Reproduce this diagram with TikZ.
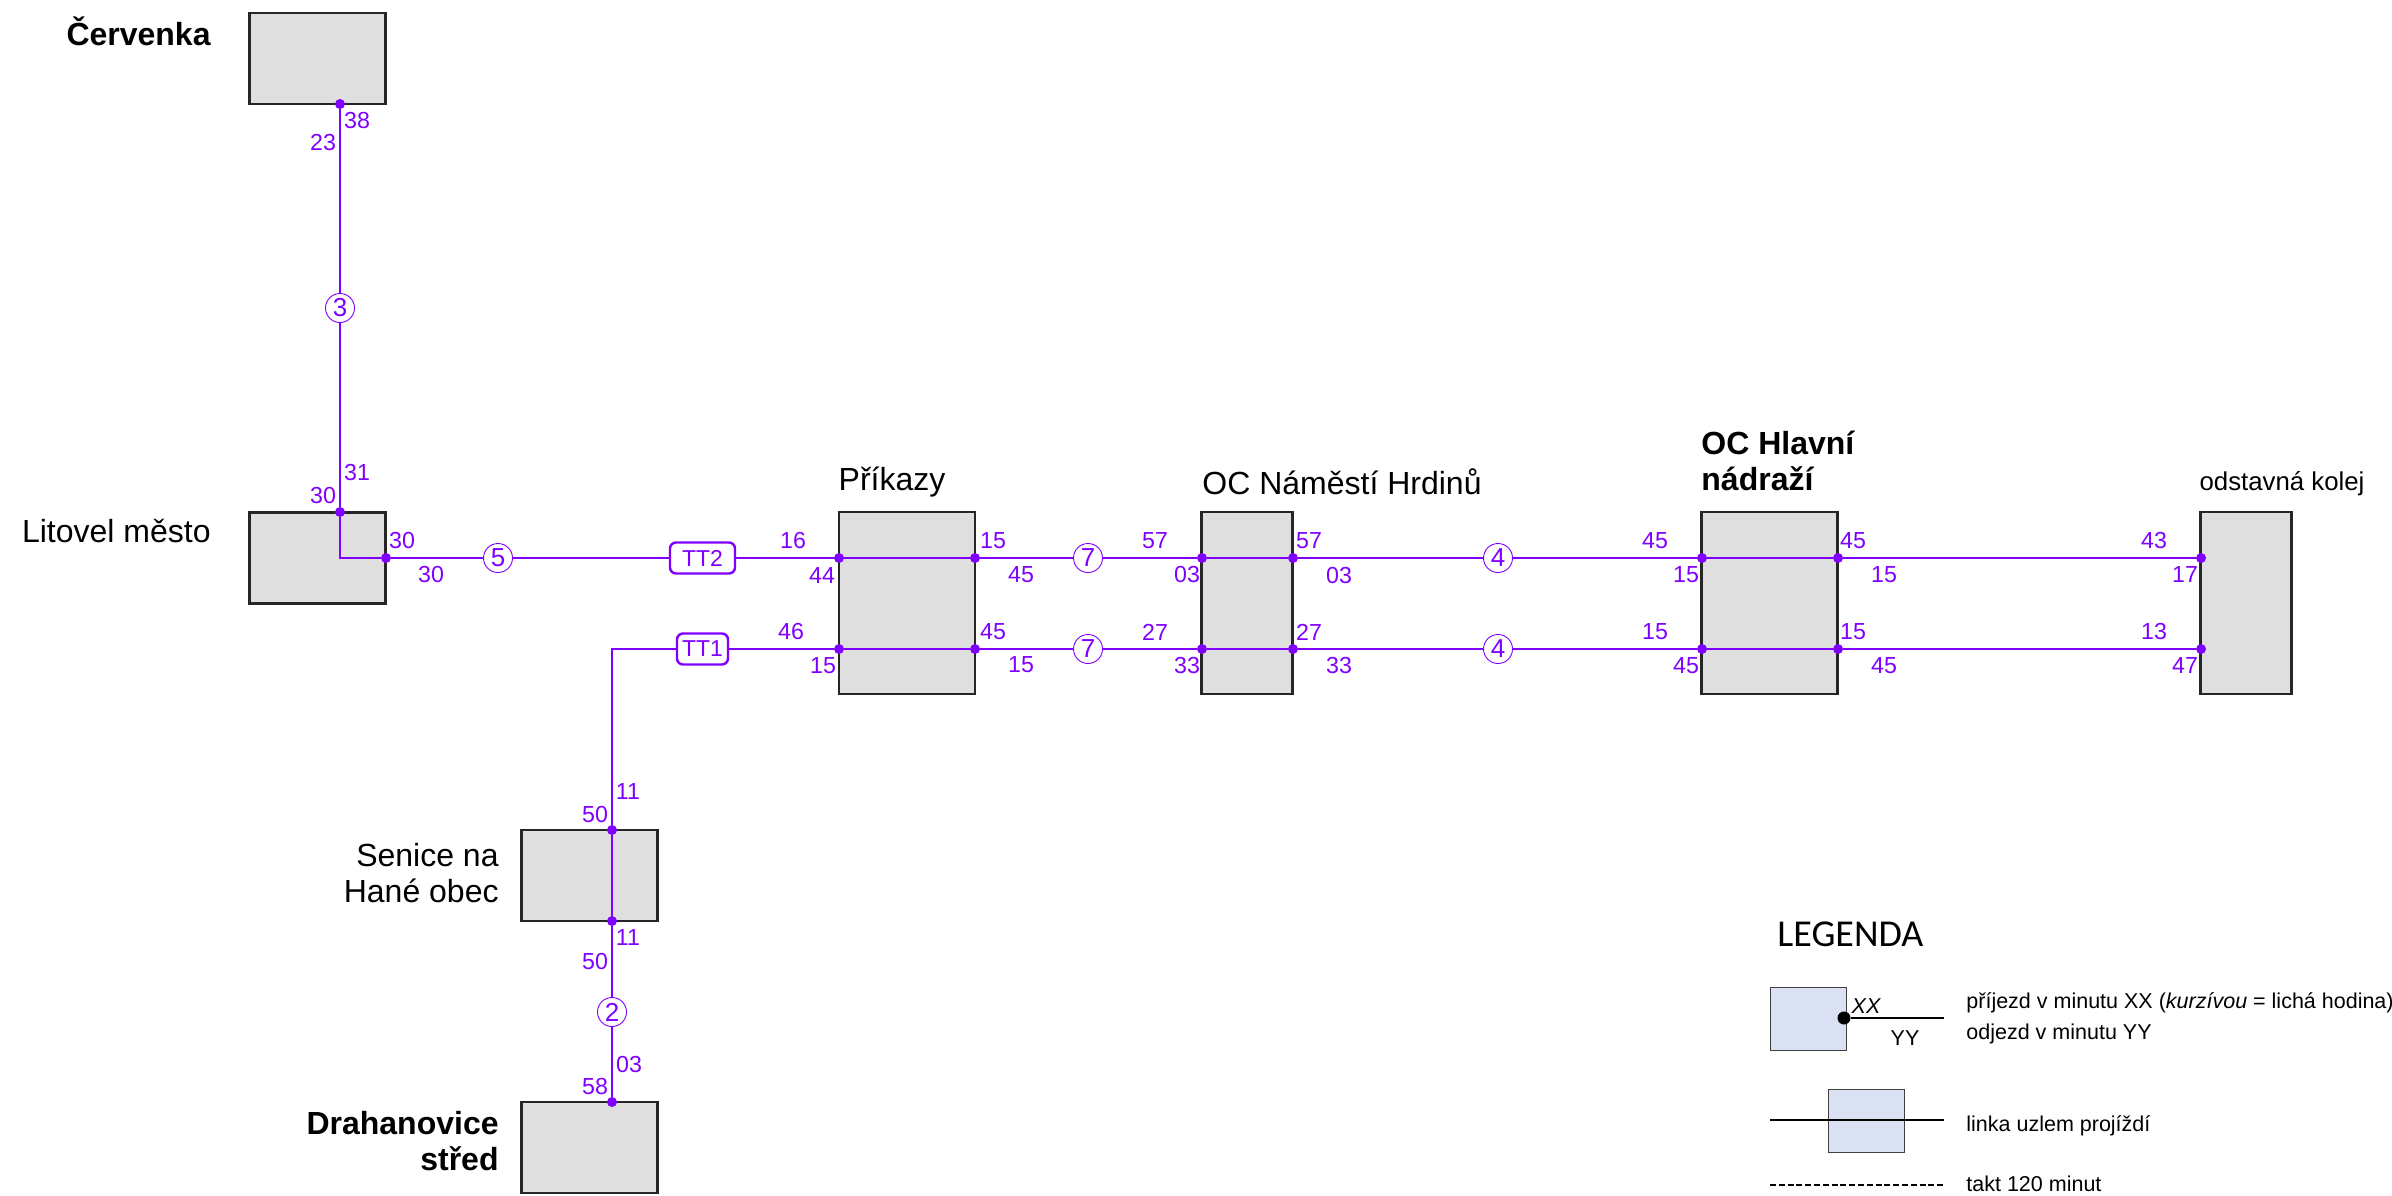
\documentclass[tikz,border=0pt]{standalone}
\usepackage{fontspec}
\setmainfont{Liberation Sans}
\newfontfamily\legfont{Carlito}
\definecolor{linepurple}{HTML}{8000FF}
\definecolor{stationgrey}{HTML}{DFDFDF}
\definecolor{legendblue}{HTML}{D9E1F2}
\tikzset{
  stationbox/.style={draw=black!85,line width=1.1pt,fill=stationgrey,inner sep=0pt,minimum width=68pt,minimum height=45.5pt},
  stationtall/.style={stationbox,minimum height=91pt},
  stationslim/.style={stationbox,minimum width=45.5pt,minimum height=91pt},
  route/.style={draw=linepurple,line width=1.25pt},
  stop/.style={circle,fill=linepurple,inner sep=0pt,minimum size=5pt},
  linenum/.style={circle,draw=linepurple,line width=0.45pt,fill=white,text=linepurple,inner sep=0pt,minimum size=14.5pt,font=\fontsize{13}{13}\selectfont},
  ttbox/.style={rounded corners=3pt,draw=linepurple,line width=1.2pt,fill=white,text=linepurple,inner sep=0pt,minimum height=15.5pt,font=\fontsize{11.5}{11.5}\selectfont},
  minute/.style={text=linepurple,inner sep=0pt,font=\fontsize{11.6}{11.6}\selectfont},
  title/.style={inner sep=0pt,align=right,anchor=east,font=\fontsize{16}{17.6}\selectfont},
  titlebold/.style={title,font=\fontsize{16}{18}\selectfont\bfseries},
  legtext/.style={inner sep=0pt,anchor=west,font=\fontsize{10.75}{12}\selectfont},
  legbox/.style={draw=black!75,line width=0.5pt,fill=legendblue,inner sep=0pt,minimum width=38pt,minimum height=31.5pt},
  legline/.style={draw=black,line width=1pt}
}
\begin{document}
\begin{tikzpicture}[x=0.5pt,y=-0.5pt]
\useasboundingbox (0,0) rectangle (2392,1195);
% stations
\node[stationbox] (cer) at (317.5,58.5) {};
\node[stationbox] (lit) at (317.5,558) {};
\node[stationtall] (pri) at (907,603) {};
\node[stationslim] (nam) at (1247,603) {};
\node[stationtall] (hla) at (1769.5,603) {};
\node[stationslim] (ods) at (2246,603) {};
\node[stationbox] (sen) at (589.5,875.5) {};
\node[stationbox] (dra) at (589.5,1147.5) {};
% stops
\foreach \n/\x/\y in {cerB/340/104,litT/340/512,litR/386/558,senT/612/830,senB/612/921,draT/612/1102,
  priA/839/558,priB/975/558,priC/839/649,priD/975/649,
  namA/1202/558,namB/1293/558,namC/1202/649,namD/1293/649,
  hlaA/1702/558,hlaB/1838/558,hlaC/1702/649,hlaD/1838/649,
  odsA/2201/558,odsC/2201/649}
  \node[stop] (\n) at (\x,\y) {};
\coordinate (litCorner) at (340,558);
\coordinate (ttCorner) at (612,649);
% line markers
\node[linenum] (c3) at (340,308) {3};
\node[linenum] (c5) at (498,558) {5};
\node[linenum] (c7a) at (1088,558) {7};
\node[linenum] (c7b) at (1088,649) {7};
\node[linenum] (c4a) at (1498,558) {4};
\node[linenum] (c4b) at (1498,649) {4};
\node[linenum] (c2) at (612,1012) {2};
\node[ttbox,minimum width=32.5pt] (tt2) at (702.5,558) {TT2};
\node[ttbox,minimum width=25.5pt] (tt1) at (702.5,649) {TT1};
% routes
\draw[route] (cerB) -- (c3) -- (litT) -- (litCorner) -- (litR) -- (c5) -- (tt2) -- (priA) -- (priB) -- (c7a) -- (namA) -- (namB) -- (c4a) -- (hlaA) -- (hlaB) -- (odsA);
\draw[route] (draT) -- (c2) -- (senB) -- (senT) -- (ttCorner) -- (tt1) -- (priC) -- (priD) -- (c7b) -- (namC) -- (namD) -- (c4b) -- (hlaC) -- (hlaD) -- (odsC);
% minutes
\foreach \i/\x/\y/\t in {m1/357/121/38,m2/323/143/23,m3/357/473/31,m4/323/496/30,m5/402/541/30,m6/431/575/30,
  m7/793/541/16,m8/822/576/44,m9/993/541/15,m10/1021/575/45,m11/791/632/46,m12/823/666/15,m13/993/632/45,m14/1021/665/15,
  m15/1155/541/57,m16/1187/575/03,m17/1309/541/57,m18/1339/576/03,m19/1155/632/27,m20/1187/666/33,m21/1309/632/27,m22/1339/666/33,
  m23/1655/541/45,m24/1686/575/15,m25/1853/541/45,m26/1884/575/15,m27/1655/632/15,m28/1686/666/45,m29/1853/632/15,m30/1884/666/45,
  m31/2154/541/43,m32/2185/575/17,m33/2154/632/13,m34/2185/666/47,
  m35/628/792/11,m36/595/814/50,m37/628/938/11,m38/595/961/50,m39/629/1064/03,m40/595/1086/58}
  \node[minute] (\i) at (\x,\y) {\t};
% titles
\node[titlebold] (tCer) at (211,31) {Červenka};
\node[title] (tLit) at (211,531) {Litovel město};
\node[title,anchor=center] (tPri) at (892,482) {Příkazy};
\node[title,anchor=center] (tNam) at (1342,482) {OC Náměstí Hrdinů};
\node[titlebold,anchor=west,align=left] (tHla) at (1701,461) {OC Hlavní\\nádraží};
\node[title,anchor=center,font=\fontsize{12.9}{14}\selectfont] (tOds) at (2282,484) {odstavná kolej};
\node[title] (tSen) at (499,873) {Senice na\\Hané obec};
\node[titlebold] (tDra) at (499,1141) {Drahanovice\\střed};
% legend
\node[inner sep=0pt,anchor=west,font=\legfont\fontsize{19}{19}\selectfont] (legT) at (1777,934) {LEGENDA};
\node[legbox] (lb1) at (1808.5,1018.5) {};
\node[circle,fill=black,inner sep=0pt,minimum size=6.5pt] (ldot) at (1844,1018) {};
\coordinate (l1end) at (1944,1018);
\draw[legline] (ldot) -- (l1end);
\node[inner sep=0pt,font=\fontsize{10.75}{11}\selectfont\itshape] (lXX) at (1866,1006) {XX};
\node[inner sep=0pt,font=\fontsize{10.75}{11}\selectfont] (lYY) at (1905,1038) {YY};
\node[legtext] (lt1) at (1966,1003) {příjezd v minutu XX (\textit{kurzívou} = lichá hodina)};
\node[legtext] (lt2) at (1966,1034) {odjezd v minutu YY};
\node[legbox] (lb2) at (1866,1121) {};
\coordinate (l2a) at (1770,1120);
\coordinate (l2b) at (1944,1120);
\draw[legline] (l2a) -- (l2b);
\node[legtext] (lt3) at (1966,1126) {linka uzlem projíždí};
\coordinate (l3a) at (1770,1185);
\coordinate (l3b) at (1944,1185);
\draw[draw=black,line width=0.6pt,dash pattern=on 3pt off 1.4pt] (l3a) -- (l3b);
\node[legtext] (lt4) at (1966,1184) {takt 120 minut};
\end{tikzpicture}
\end{document}
